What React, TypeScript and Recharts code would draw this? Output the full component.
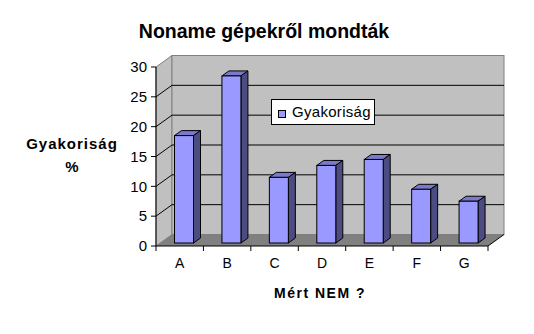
import { BarChart, Bar, XAxis, YAxis, ReferenceArea, Legend } from 'recharts';

const categories = ['A', 'B', 'C', 'D', 'E', 'F', 'G'];
const gyakorisag = [18, 28, 11, 13, 14, 9, 7];
const yTicks = [0, 5, 10, 15, 20, 25, 30];

const data = categories.map((name, i) => ({ name, value: gyakorisag[i] }));

// 3d look
const DX = 16;
const DY = 11.5;
const BX = 4.5;
const BY = 3;
const BDX = 7;
const BDY = 5;

const PLOT_LEFT = 156;
const PLOT_RIGHT = 488;
const BAND = (PLOT_RIGHT - PLOT_LEFT) / categories.length;
const FONT = '"Liberation Sans", Arial, sans-serif';

function Walls(props: any) {
  const { x, y, width, height } = props;
  const bottom = y + height;
  const right = x + width;
  const max = yTicks[yTicks.length - 1];
  const lines = yTicks.slice(1, -1).map((v) => bottom - (height * v) / max);
  return (
    <g>
      <polygon
        points={`${x},${y} ${x + DX},${y - DY} ${x + DX},${bottom - DY} ${x},${bottom}`}
        fill="#c0c0c0"
        stroke="#808080"
      />
      <rect x={x + DX} y={y - DY} width={width} height={height} fill="#c0c0c0" stroke="#808080" />
      <polygon
        points={`${x},${bottom} ${x + DX},${bottom - DY} ${right + DX},${bottom - DY} ${right},${bottom}`}
        fill="#808080"
      />
      <line x1={right} y1={bottom} x2={right + DX} y2={bottom - DY} stroke="#000" />
      {lines.map((ly) => (
        <polyline
          key={ly}
          points={`${x},${ly} ${x + DX},${ly - DY} ${right + DX},${ly - DY}`}
          fill="none"
          stroke="#000"
        />
      ))}
    </g>
  );
}

function Box3D(props: any) {
  const { x, y, width, height } = props;
  const fx = x + BX;
  const fy = y - BY;
  return (
    <g stroke="#000" strokeWidth={1}>
      <polygon
        points={`${fx},${fy} ${fx + BDX},${fy - BDY} ${fx + width + BDX},${fy - BDY} ${fx + width},${fy}`}
        fill="#7a7acc"
      />
      <polygon
        points={`${fx + width},${fy} ${fx + width + BDX},${fy - BDY} ${fx + width + BDX},${fy + height - BDY} ${fx + width},${fy + height}`}
        fill="#4c4c80"
      />
      <rect x={fx} y={fy} width={width} height={height} fill="#9999ff" />
    </g>
  );
}

function CategoryTick(props: any) {
  const { x, y, payload, index } = props;
  const half = BAND / 2;
  return (
    <g>
      <line x1={x - half} y1={y} x2={x - half} y2={y + 5} stroke="#000" />
      {index === categories.length - 1 && (
        <line x1={x + half} y1={y} x2={x + half} y2={y + 5} stroke="#000" />
      )}
      <text x={x} y={y + 22} textAnchor="middle" fontSize={14} fill="#000" fontFamily={FONT}>
        {payload.value}
      </text>
    </g>
  );
}

function LegendBox() {
  return (
    <div
      style={{
        width: 104,
        height: 26,
        border: '1px solid #000',
        background: '#fff',
        boxSizing: 'border-box',
        position: 'relative',
        fontFamily: FONT,
        fontSize: 15,
      }}
    >
      <span
        style={{
          position: 'absolute',
          left: 6,
          top: 10,
          width: 6,
          height: 6,
          border: '1px solid #000',
          background: '#9999ff',
        }}
      />
      <span style={{ position: 'absolute', left: 20, top: 3, lineHeight: '17px', letterSpacing: 0.3 }}>
        Gyakoriság
      </span>
    </div>
  );
}

export default function App() {
  return (
    <div style={{ position: 'fixed', left: 0, top: 0, width: 534, height: 334, background: '#fff' }}>
      <BarChart
        width={534}
        height={334}
        data={data}
        margin={{ top: 67, right: 534 - PLOT_RIGHT, bottom: 58, left: 0 }}
        barSize={19}
      >
        <XAxis
          dataKey="name"
          height={30}
          axisLine={{ stroke: '#000' }}
          tickLine={false}
          tickSize={0}
          tickMargin={0}
          tick={<CategoryTick />}
          interval={0}
        />
        <YAxis
          type="number"
          domain={[0, 30]}
          ticks={yTicks}
          interval={0}
          width={PLOT_LEFT}
          axisLine={{ stroke: '#000' }}
          tickLine={{ stroke: '#000' }}
          tickSize={5}
          tickMargin={4}
          tick={{ fontSize: 15, fill: '#000', fontFamily: FONT }}
        />
        <ReferenceArea y1={0} y2={30} shape={<Walls />} ifOverflow="visible" zIndex={-10} />
        <Legend
          layout="vertical"
          align="center"
          verticalAlign="middle"
          content={<LegendBox />}
          wrapperStyle={{ position: 'absolute', left: 271, top: 99, width: 104 }}
        />
        <Bar dataKey="value" name="Gyakoriság" shape={<Box3D />} isAnimationActive={false} />
      </BarChart>
      <svg
        width={534}
        height={334}
        style={{ position: 'absolute', left: 0, top: 0, pointerEvents: 'none' }}
        fontFamily={FONT}
        fontWeight="bold"
      >
        <text x={264} y={38} textAnchor="middle" fontSize={19.5}>
          Noname gépekről mondták
        </text>
        <text x={72} y={149} textAnchor="middle" fontSize={15} letterSpacing={1}>
          Gyakoriság
        </text>
        <text x={72} y={172} textAnchor="middle" fontSize={15}>
          %
        </text>
        <text x={320} y={298} textAnchor="middle" fontSize={14} letterSpacing={1.5}>
          Mért NEM ?
        </text>
      </svg>
    </div>
  );
}
